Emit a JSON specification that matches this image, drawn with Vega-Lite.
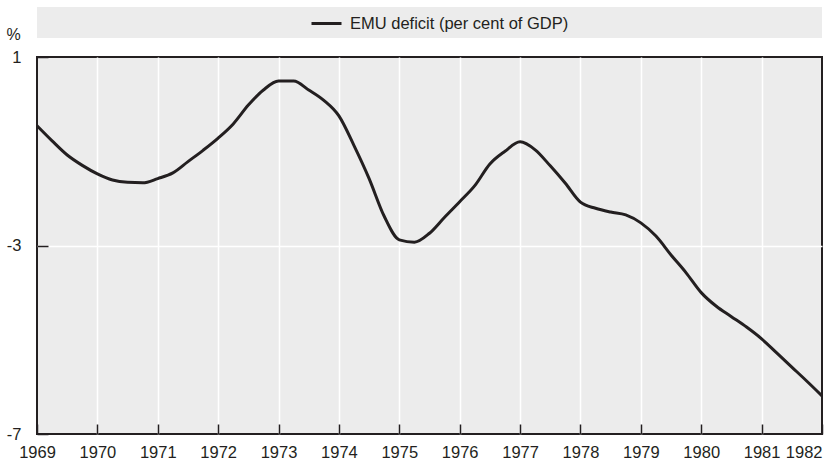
{
  "$schema": "https://vega.github.io/schema/vega-lite/v6.json",
  "background": "white",
  "padding": {"left": 4, "top": 7, "right": 1, "bottom": 0},
  "bounds": "flush",
  "spacing": 19,
  "config": {
    "font": "Liberation Sans, Arial, sans-serif",
    "view": {"stroke": null}
  },
  "datasets": {
    "emu": [
      {"year": 1969.0, "deficit": -0.46, "series": "EMU deficit (per cent of GDP)"},
      {"year": 1969.25, "deficit": -0.78, "series": "EMU deficit (per cent of GDP)"},
      {"year": 1969.5, "deficit": -1.08, "series": "EMU deficit (per cent of GDP)"},
      {"year": 1969.75, "deficit": -1.30, "series": "EMU deficit (per cent of GDP)"},
      {"year": 1970.0, "deficit": -1.48, "series": "EMU deficit (per cent of GDP)"},
      {"year": 1970.25, "deficit": -1.61, "series": "EMU deficit (per cent of GDP)"},
      {"year": 1970.5, "deficit": -1.66, "series": "EMU deficit (per cent of GDP)"},
      {"year": 1970.75, "deficit": -1.67, "series": "EMU deficit (per cent of GDP)"},
      {"year": 1971.0, "deficit": -1.58, "series": "EMU deficit (per cent of GDP)"},
      {"year": 1971.25, "deficit": -1.46, "series": "EMU deficit (per cent of GDP)"},
      {"year": 1971.5, "deficit": -1.22, "series": "EMU deficit (per cent of GDP)"},
      {"year": 1971.75, "deficit": -0.98, "series": "EMU deficit (per cent of GDP)"},
      {"year": 1972.0, "deficit": -0.72, "series": "EMU deficit (per cent of GDP)"},
      {"year": 1972.25, "deficit": -0.42, "series": "EMU deficit (per cent of GDP)"},
      {"year": 1972.5, "deficit": -0.02, "series": "EMU deficit (per cent of GDP)"},
      {"year": 1972.75, "deficit": 0.30, "series": "EMU deficit (per cent of GDP)"},
      {"year": 1973.0, "deficit": 0.49, "series": "EMU deficit (per cent of GDP)"},
      {"year": 1973.25, "deficit": 0.49, "series": "EMU deficit (per cent of GDP)"},
      {"year": 1973.5, "deficit": 0.30, "series": "EMU deficit (per cent of GDP)"},
      {"year": 1973.75, "deficit": 0.08, "series": "EMU deficit (per cent of GDP)"},
      {"year": 1974.0, "deficit": -0.25, "series": "EMU deficit (per cent of GDP)"},
      {"year": 1974.25, "deficit": -0.88, "series": "EMU deficit (per cent of GDP)"},
      {"year": 1974.5, "deficit": -1.58, "series": "EMU deficit (per cent of GDP)"},
      {"year": 1974.75, "deficit": -2.38, "series": "EMU deficit (per cent of GDP)"},
      {"year": 1975.0, "deficit": -2.88, "series": "EMU deficit (per cent of GDP)"},
      {"year": 1975.25, "deficit": -2.93, "series": "EMU deficit (per cent of GDP)"},
      {"year": 1975.5, "deficit": -2.74, "series": "EMU deficit (per cent of GDP)"},
      {"year": 1975.75, "deficit": -2.40, "series": "EMU deficit (per cent of GDP)"},
      {"year": 1976.0, "deficit": -2.07, "series": "EMU deficit (per cent of GDP)"},
      {"year": 1976.25, "deficit": -1.73, "series": "EMU deficit (per cent of GDP)"},
      {"year": 1976.5, "deficit": -1.27, "series": "EMU deficit (per cent of GDP)"},
      {"year": 1976.75, "deficit": -1.00, "series": "EMU deficit (per cent of GDP)"},
      {"year": 1977.0, "deficit": -0.80, "series": "EMU deficit (per cent of GDP)"},
      {"year": 1977.25, "deficit": -0.97, "series": "EMU deficit (per cent of GDP)"},
      {"year": 1977.5, "deficit": -1.31, "series": "EMU deficit (per cent of GDP)"},
      {"year": 1977.75, "deficit": -1.68, "series": "EMU deficit (per cent of GDP)"},
      {"year": 1978.0, "deficit": -2.08, "series": "EMU deficit (per cent of GDP)"},
      {"year": 1978.25, "deficit": -2.21, "series": "EMU deficit (per cent of GDP)"},
      {"year": 1978.5, "deficit": -2.29, "series": "EMU deficit (per cent of GDP)"},
      {"year": 1978.75, "deficit": -2.35, "series": "EMU deficit (per cent of GDP)"},
      {"year": 1979.0, "deficit": -2.52, "series": "EMU deficit (per cent of GDP)"},
      {"year": 1979.25, "deficit": -2.80, "series": "EMU deficit (per cent of GDP)"},
      {"year": 1979.5, "deficit": -3.20, "series": "EMU deficit (per cent of GDP)"},
      {"year": 1979.75, "deficit": -3.58, "series": "EMU deficit (per cent of GDP)"},
      {"year": 1980.0, "deficit": -4.00, "series": "EMU deficit (per cent of GDP)"},
      {"year": 1980.25, "deficit": -4.29, "series": "EMU deficit (per cent of GDP)"},
      {"year": 1980.5, "deficit": -4.51, "series": "EMU deficit (per cent of GDP)"},
      {"year": 1980.75, "deficit": -4.73, "series": "EMU deficit (per cent of GDP)"},
      {"year": 1981.0, "deficit": -4.98, "series": "EMU deficit (per cent of GDP)"},
      {"year": 1981.25, "deficit": -5.28, "series": "EMU deficit (per cent of GDP)"},
      {"year": 1981.5, "deficit": -5.58, "series": "EMU deficit (per cent of GDP)"},
      {"year": 1981.75, "deficit": -5.88, "series": "EMU deficit (per cent of GDP)"},
      {"year": 1982.0, "deficit": -6.19, "series": "EMU deficit (per cent of GDP)"}
    ]
  },
  "vconcat": [
    {
      "width": 785,
      "height": 31,
      "view": {"fill": "#ececec", "stroke": null},
      "data": {"values": [{"band": 1}]},
      "mark": {"type": "rect", "color": "#ececec"},
      "encoding": {}
    },
    {
      "width": 785,
      "height": 377,
      "view": {"fill": "#ececec", "stroke": "#231f20", "strokeWidth": 2},
      "data": {"name": "emu"},
      "mark": {"type": "line", "strokeWidth": 3, "interpolate": "monotone"},
      "encoding": {
        "x": {
          "field": "year",
          "type": "quantitative",
          "scale": {"domain": [1969, 1982], "nice": false, "zero": false},
          "axis": {
            "title": null,
            "values": [1969, 1970, 1971, 1972, 1973, 1974, 1975, 1976, 1977, 1978, 1979, 1980, 1981, 1982],
            "labelExpr": "'' + datum.value",
            "domain": false,
            "tickSize": -10,
            "tickColor": "#231f20",
            "tickWidth": 1.5,
            "labelPadding": 20,
            "labelFontSize": 16.5,
            "labelColor": "#231f20",
            "labelOverlap": false,
            "labelFlush": false,
            "labelBound": false,
            "labelAlign": {"condition": {"test": "datum.value == 1982", "value": "right"}, "value": "center"},
            "grid": true,
            "gridColor": "white",
            "gridWidth": 1.5,
            "gridOpacity": {"condition": {"test": "datum.value == 1969 || datum.value == 1982", "value": 0}, "value": 1}
          }
        },
        "y": {
          "field": "deficit",
          "type": "quantitative",
          "scale": {"domain": [-7, 1], "nice": false, "zero": false},
          "axis": {
            "title": "%",
            "titleAngle": 0,
            "titleX": -24,
            "titleY": -18,
            "titleAlign": "center",
            "titleBaseline": "alphabetic",
            "titleFontSize": 16,
            "titleFontWeight": "normal",
            "titleColor": "#231f20",
            "values": [1, -3, -7],
            "labelExpr": "'' + datum.value",
            "domain": false,
            "tickSize": -11,
            "tickColor": "#231f20",
            "tickWidth": 1.5,
            "labelPadding": 27,
            "labelFontSize": 16.5,
            "labelColor": "#231f20",
            "labelOverlap": false,
            "labelFlush": false,
            "labelBound": false,
            "grid": true,
            "gridColor": "white",
            "gridWidth": 1.5,
            "gridOpacity": {"condition": {"test": "datum.value == -3", "value": 1}, "value": 0}
          }
        },
        "color": {
          "field": "series",
          "type": "nominal",
          "scale": {"range": ["#231f20"]},
          "legend": {
            "title": null,
            "orient": "none",
            "legendX": 273,
            "legendY": 0,
            "padding": 0,
            "symbolType": "stroke",
            "symbolSize": 900,
            "symbolStrokeWidth": 3,
            "labelFontSize": 16.5,
            "labelOffset": 7,
            "labelLimit": 0,
            "labelColor": "#231f20"
          }
        }
      }
    }
  ]
}
